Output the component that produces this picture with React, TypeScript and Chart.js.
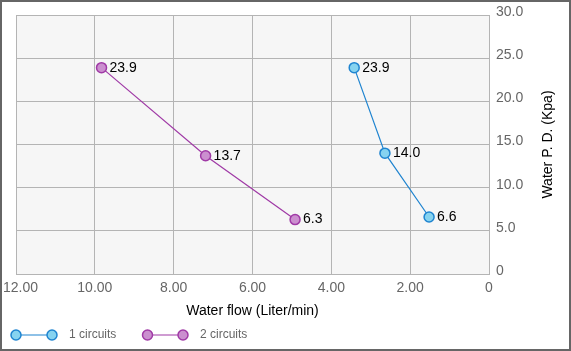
import React, { useEffect, useRef } from "react";
import { Chart, registerables } from "chart.js";

Chart.register(...registerables);

const series1Name = "1 circuits";
const series1Flow = [3.42, 2.64, 1.52];
const series1PD = [23.9, 14.0, 6.6];

const series2Name = "2 circuits";
const series2Flow = [9.83, 7.19, 4.92];
const series2PD = [23.9, 13.7, 6.3];

const xTitle = "Water flow (Liter/min)";
const yTitle = "Water P. D. (Kpa)";

const FONT = "Arial, 'Liberation Sans', sans-serif";
const BLUE_LINE = "#1f84d0";
const BLUE_FILL = "#86d3f0";
const PURPLE_LINE = "#a03aa6";
const PURPLE_FILL = "#cb8fcf";
const GRID = "#b4b4b4";

export default function App() {
  const ref = useRef<HTMLCanvasElement | null>(null);

  useEffect(() => {
    document.body.style.margin = "0";
    const canvas = ref.current;
    if (!canvas) return;

    const decor = {
      id: "decor",
      beforeDraw(chart: any) {
        const { ctx, chartArea } = chart;
        ctx.save();
        ctx.fillStyle = "#ffffff";
        ctx.fillRect(0, 0, chart.width, chart.height);
        ctx.fillStyle = "#f6f6f6";
        ctx.fillRect(chartArea.left, chartArea.top, chartArea.right - chartArea.left, chartArea.bottom - chartArea.top);
        ctx.restore();
      },
      afterDraw(chart: any) {
        const { ctx } = chart;
        const xs = chart.scales.x;
        ctx.save();
        // x tick labels
        ctx.font = `14px ${FONT}`;
        ctx.fillStyle = "#666666";
        ctx.textBaseline = "middle";
        ctx.textAlign = "center";
        xs.ticks.forEach((t: any) => {
          const v = t.value;
          const txt = v === 0 ? "0" : v.toFixed(2);
          const w = ctx.measureText(txt).width;
          let px = xs.getPixelForValue(v);
          px = Math.max(px, 3 + w / 2);
          ctx.fillText(txt, px, 288);
        });
        // y title rotated
        const ca = chart.chartArea;
        ctx.save();
        ctx.translate(548, (ca.top + ca.bottom) / 2);
        ctx.rotate(-Math.PI / 2);
        ctx.fillStyle = "#000000";
        ctx.textAlign = "center";
        ctx.textBaseline = "middle";
        ctx.font = `14px ${FONT}`;
        ctx.fillText(yTitle, 0, 0);
        ctx.restore();
        // data labels
        ctx.font = `14px ${FONT}`;
        ctx.fillStyle = "#000000";
        ctx.textAlign = "left";
        ctx.textBaseline = "middle";
        chart.data.datasets.forEach((ds: any, di: number) => {
          const meta = chart.getDatasetMeta(di);
          meta.data.forEach((el: any, i: number) => {
            ctx.fillText(ds.data[i].y.toFixed(1), el.x + 8, el.y);
          });
        });
        // legend
        const items = [
          { name: series1Name, line: BLUE_LINE, fill: BLUE_FILL, x0: 16, x1: 52, tx: 69 },
          { name: series2Name, line: PURPLE_LINE, fill: PURPLE_FILL, x0: 147.5, x1: 183, tx: 200 },
        ];
        const ly = 335;
        items.forEach((it) => {
          ctx.strokeStyle = it.line;
          ctx.lineWidth = 1.2;
          ctx.beginPath();
          ctx.moveTo(it.x0, ly);
          ctx.lineTo(it.x1, ly);
          ctx.stroke();
          [it.x0, it.x1].forEach((cx) => {
            ctx.beginPath();
            ctx.arc(cx, ly, 5, 0, Math.PI * 2);
            ctx.fillStyle = it.fill;
            ctx.fill();
            ctx.lineWidth = 1.5;
            ctx.strokeStyle = it.line;
            ctx.stroke();
          });
          ctx.font = `12px ${FONT}`;
          ctx.fillStyle = "#666666";
          ctx.textAlign = "left";
          ctx.textBaseline = "middle";
          ctx.fillText(it.name, it.tx, ly);
        });
        // outer border
        ctx.strokeStyle = "#666666";
        ctx.lineWidth = 2;
        ctx.strokeRect(1, 1, chart.width - 2, chart.height - 2);
        ctx.restore();
      },
    };

    const mk = (xs: number[], ys: number[]) => xs.map((x, i) => ({ x, y: ys[i] }));

    const chart = new Chart(canvas, {
      type: "line",
      data: {
        datasets: [
          {
            label: series1Name,
            data: mk(series1Flow, series1PD),
            borderColor: BLUE_LINE,
            backgroundColor: BLUE_FILL,
            pointBackgroundColor: BLUE_FILL,
            pointBorderColor: BLUE_LINE,
            pointRadius: 5,
            pointBorderWidth: 1.5,
            borderWidth: 1.2,
            tension: 0,
          },
          {
            label: series2Name,
            data: mk(series2Flow, series2PD),
            borderColor: PURPLE_LINE,
            backgroundColor: PURPLE_FILL,
            pointBackgroundColor: PURPLE_FILL,
            pointBorderColor: PURPLE_LINE,
            pointRadius: 5,
            pointBorderWidth: 1.5,
            borderWidth: 1.2,
            tension: 0,
          },
        ],
      },
      options: {
        responsive: false,
        animation: false,
        events: [],
        layout: { padding: { left: 16, top: 15, right: 0, bottom: 0 } },
        plugins: {
          legend: { display: false },
          tooltip: { enabled: false },
        },
        scales: {
          x: {
            type: "linear",
            position: "bottom",
            min: 0,
            max: 12,
            reverse: true,
            ticks: { stepSize: 2, display: false },
            grid: { color: GRID, drawTicks: false, lineWidth: 1 },
            border: { display: true, color: GRID },
            title: {
              display: true,
              text: xTitle,
              color: "#000000",
              font: { family: FONT, size: 14 },
              padding: { top: 0, bottom: 31.6 },
            },
            afterFit(s: any) {
              s.height = 77;
              s.paddingLeft = 0;
              s.paddingRight = 0;
            },
          },
          y: {
            type: "linear",
            position: "right",
            min: 0,
            max: 30,
            ticks: {
              stepSize: 5,
              color: "#666666",
              font: { family: FONT, size: 14 },
              padding: 7,
              labelOffset: -3,
              callback: (v: any) => (v === 0 ? "0" : Number(v).toFixed(1)),
            },
            grid: { color: GRID, drawTicks: false, lineWidth: 1 },
            border: { display: true, color: GRID },
            afterFit(s: any) {
              s.width = 82;
              s.paddingTop = 0;
              s.paddingBottom = 0;
            },
          },
        },
      },
      plugins: [decor],
    } as any);

    return () => chart.destroy();
  }, []);

  return <canvas ref={ref} width={571} height={351} style={{ display: "block" }} />;
}
